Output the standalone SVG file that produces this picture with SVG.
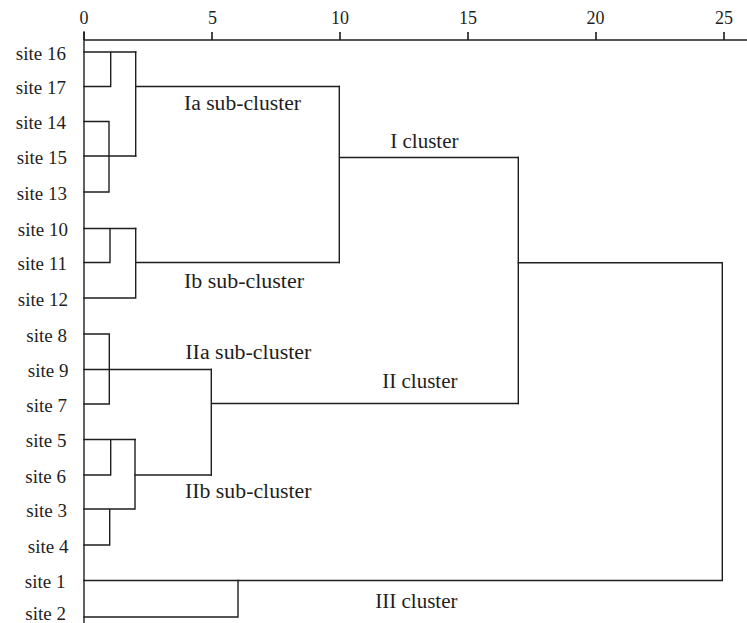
<svg xmlns="http://www.w3.org/2000/svg" width="747" height="623" viewBox="0 0 747 623">
  <style>
    .ln { fill: none; stroke: #1e1e1e; stroke-width: 1.4; stroke-linecap: square; }
    .ax { fill: none; stroke: #1e1e1e; stroke-width: 1.6; }
    .tick { font-family: "Liberation Serif", "Times New Roman", serif; font-size: 18px; fill: #1e1e1e; text-anchor: middle; }
    .site { font-family: "Liberation Serif", "Times New Roman", serif; font-size: 19px; fill: #1e1e1e; text-anchor: end; }
    .sub { font-family: "Liberation Serif", "Times New Roman", serif; font-size: 20px; fill: #1e1e1e; }
    .clu { font-family: "Liberation Serif", "Times New Roman", serif; font-size: 21px; fill: #1e1e1e; text-anchor: end; }
  </style>

  <!-- distance axis -->
  <g id="axis">
    <path class="ax" d="M84 40 H747"/>
    <path class="ax" d="M84 32 V40 M212 32 V40 M340 32 V40 M468 32 V40 M596 32 V40 M724 32 V40"/>
    <text class="tick" x="84" y="24">0</text>
    <text class="tick" x="212.5" y="24">5</text>
    <text class="tick" x="340" y="24">10</text>
    <text class="tick" x="468" y="24">15</text>
    <text class="tick" x="595.5" y="24">20</text>
    <text class="tick" x="724" y="24">25</text>
  </g>

  <!-- leaf labels -->
  <g id="leaves">
    <text id="site16" class="site" x="66" y="60">site 16</text>
    <text id="site17" class="site" x="66" y="94">site 17</text>
    <text id="site14" class="site" x="66" y="129">site 14</text>
    <text id="site15" class="site" x="67" y="164">site 15</text>
    <text id="site13" class="site" x="67" y="199.5">site 13</text>
    <text id="site10" class="site" x="68" y="236">site 10</text>
    <text id="site11" class="site" x="67" y="270">site 11</text>
    <text id="site12" class="site" x="68" y="305.5">site 12</text>
    <text id="site8" class="site" x="67" y="341.5">site 8</text>
    <text id="site9" class="site" x="68.5" y="377">site 9</text>
    <text id="site7" class="site" x="67" y="411.5">site 7</text>
    <text id="site5" class="site" x="66.5" y="447">site 5</text>
    <text id="site6" class="site" x="66" y="482.5">site 6</text>
    <text id="site3" class="site" x="67" y="516.5">site 3</text>
    <text id="site4" class="site" x="68.5" y="552.5">site 4</text>
    <text id="site1" class="site" x="65.5" y="588">site 1</text>
    <text id="site2" class="site" x="66" y="620">site 2</text>
  </g>

  <!-- dendrogram links -->
  <g id="connectors">
    <!-- root stem -->
    <path class="ln" d="M84 32 V623"/>
    <!-- Ia: (16,17) and (14,15,13) -->
    <path class="ln" d="M84 52 H135.7 M110.7 52 V86.5 M84 86.5 H110.7"/>
    <path class="ln" d="M84 121.5 H109 V192 M84 156 H135.7 M84 192 H109"/>
    <path class="ln" d="M135.7 52 V156 M135.7 86.5 H339.3"/>
    <!-- Ib: (10,11) and 12 -->
    <path class="ln" d="M84 228.5 H135.7 M110 228.5 V262.5 M84 262.5 H110"/>
    <path class="ln" d="M135.7 228.5 V298 M84 298 H135.7 M135.7 262.5 H339.3"/>
    <!-- I cluster -->
    <path class="ln" d="M339.3 86.5 V262.5 M339.3 157.5 H518.3"/>
    <!-- IIa: 8, 9, 7 -->
    <path class="ln" d="M84 334 H109.3 V404 M84 404 H109.3 M84 369.5 H211.3"/>
    <!-- IIb: (5,6) and (3,4) -->
    <path class="ln" d="M84 439.5 H135 M110.7 439.5 V475 M84 475 H110.7"/>
    <path class="ln" d="M84 509 H135 M109.7 509 V545 M84 545 H109.7 M135 439.5 V509"/>
    <path class="ln" d="M135 475 H211.3"/>
    <!-- II cluster -->
    <path class="ln" d="M211.3 369.5 V475 M211.3 403.5 H518.3"/>
    <path class="ln" d="M518.3 157.5 V403.5"/>
    <!-- III cluster and top join -->
    <path class="ln" d="M84 617 H238 V580.5"/>
    <path class="ln" d="M84 580.5 H722.3 V262.7 H518.3"/>
  </g>

  <!-- cluster annotations -->
  <g id="labels">
    <text class="sub" x="184" y="110" textLength="117" lengthAdjust="spacingAndGlyphs">Ia sub-cluster</text>
    <text class="sub" x="184" y="287.5" textLength="120" lengthAdjust="spacingAndGlyphs">Ib sub-cluster</text>
    <text class="sub" x="185.3" y="358.5" textLength="126" lengthAdjust="spacingAndGlyphs">IIa sub-cluster</text>
    <text class="sub" x="185" y="497.7" textLength="126.5" lengthAdjust="spacingAndGlyphs">IIb sub-cluster</text>
    <text class="clu" x="458.5" y="147.7">I cluster</text>
    <text class="clu" x="457.5" y="388">II cluster</text>
    <text class="clu" x="457.5" y="608.3">III cluster</text>
  </g>
</svg>
